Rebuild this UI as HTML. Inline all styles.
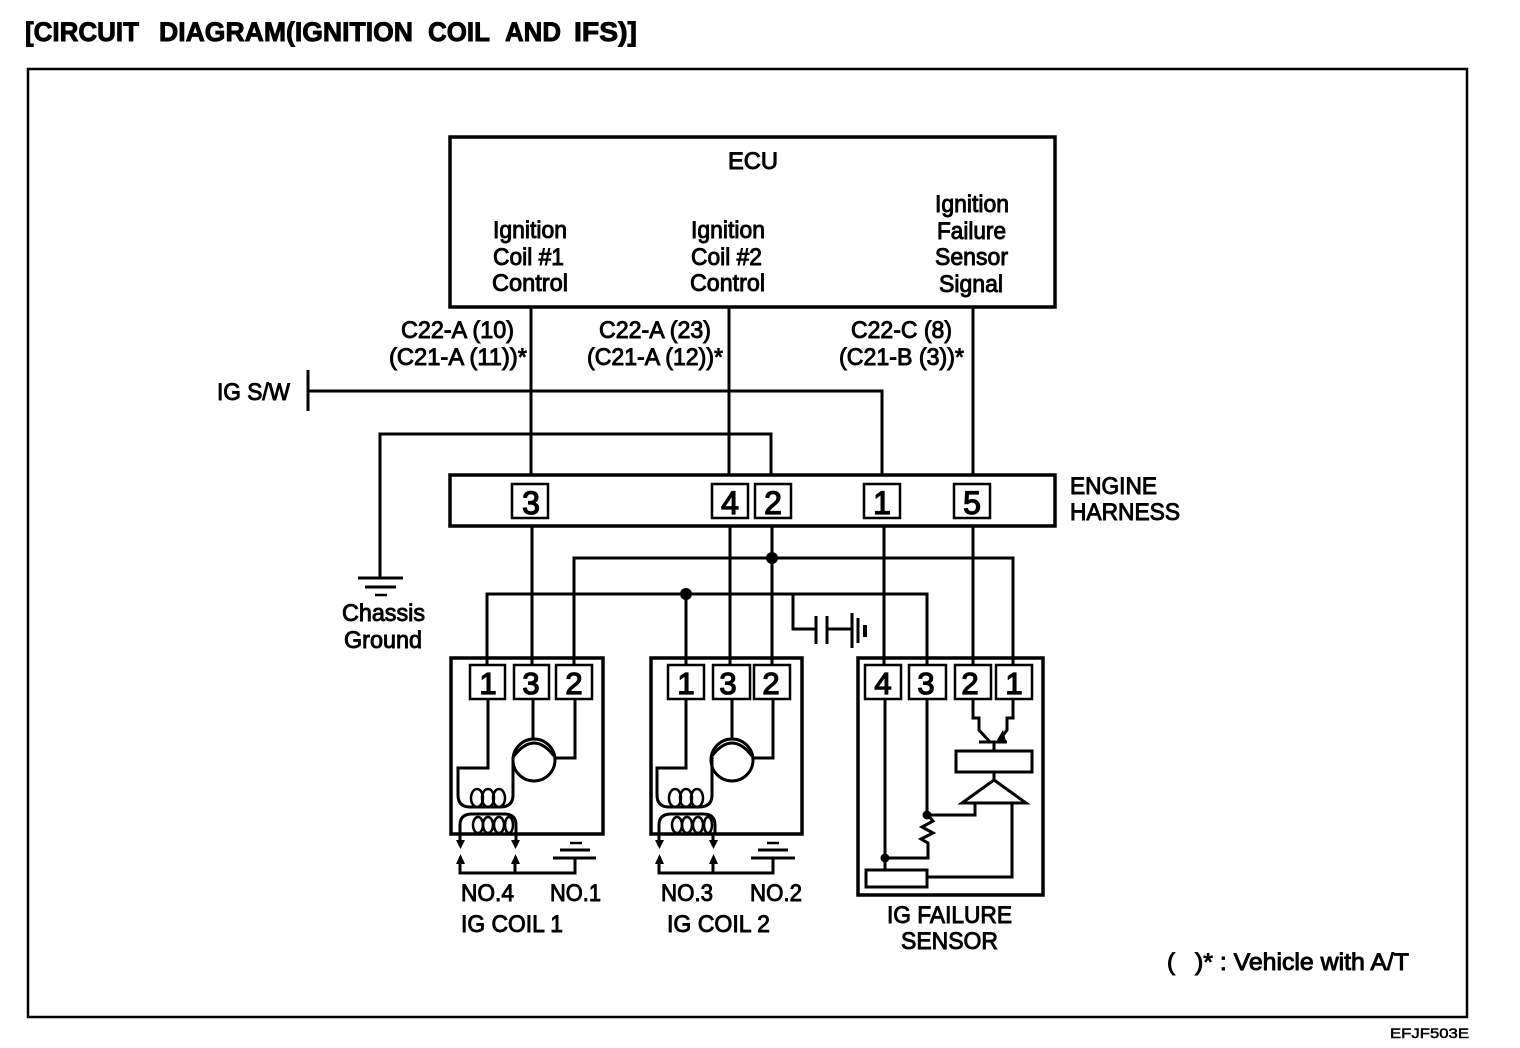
<!DOCTYPE html>
<html><head><meta charset="utf-8"><style>
html,body{margin:0;padding:0;background:#fff;width:1520px;height:1048px;overflow:hidden}
svg{display:block}
text{font-family:"Liberation Sans",sans-serif;font-size:24px;fill:#000;stroke:#000;stroke-width:.95px}
.h{font-size:27px;font-weight:bold;stroke-width:.9px}
.p{font-size:32px;text-anchor:middle;stroke-width:1.3px}
.q{font-size:31px;text-anchor:middle;stroke-width:1.3px}
.w{fill:none;stroke:#000;stroke-width:3}
.e{fill:none;stroke:#000;stroke-width:2.5}
.t{fill:none;stroke:#000;stroke-width:2.5}
.b{fill:none;stroke:#000;stroke-width:3.5}
</style></head><body>
<svg width="1520" height="1048" viewBox="0 0 1520 1048" xmlns="http://www.w3.org/2000/svg">
<rect width="1520" height="1048" fill="#fff"/>
<text class="h" x="25" y="41" textLength="114" lengthAdjust="spacingAndGlyphs">[CIRCUIT</text>
<text class="h" x="159" y="41" textLength="254" lengthAdjust="spacingAndGlyphs">DIAGRAM(IGNITION</text>
<text class="h" x="428" y="41" textLength="62" lengthAdjust="spacingAndGlyphs">COIL</text>
<text class="h" x="505" y="41" textLength="56" lengthAdjust="spacingAndGlyphs">AND</text>
<text class="h" x="574" y="41" textLength="63" lengthAdjust="spacingAndGlyphs">IFS)]</text>
<rect x="28" y="69" width="1439" height="948" class="t"/>

<!-- upper wires -->
<path class="w" d="M531 307V475M729 307V475M973 307V475M882 475V391H308M308 370V411M771 475V434H380V578"/>
<path class="w" d="M358 578H403M365 587H396"/><path d="M375 595H387" class="t"/>

<rect x="450" y="137" width="605" height="170" class="b"/>
<rect x="450" y="475" width="605" height="51" class="b"/>

<!-- harness pins -->
<g fill="none" stroke="#000" stroke-width="2.5">
<rect x="512" y="484" width="36" height="34"/><rect x="712" y="484" width="36" height="34"/><rect x="755" y="484" width="36" height="34"/><rect x="864" y="484" width="36" height="34"/><rect x="954" y="484" width="36" height="34"/>
</g>
<text class="p" x="531" y="514">3</text><text class="p" x="730" y="514">4</text><text class="p" x="773" y="514">2</text><text class="p" x="882" y="514">1</text><text class="p" x="972" y="514">5</text>

<!-- mid wires -->
<path class="w" d="M532 526V665M730 526V665M772 526V665M884 526V665M973 526V665M574 665V558H1013V665M487 665V594H927V665M686 594V665M793 594V629H815"/>
<circle cx="772" cy="558" r="6"/><circle cx="686" cy="594" r="6"/>
<!-- battery -->
<path class="w" d="M816 616V644M827 616V644M827 629H852M852 613V648"/>
<path d="M858 618V643" class="w"/><path d="M865 625V637" stroke="#000" stroke-width="4"/>

<!-- coil 1 -->
<g>
<rect x="451" y="658" width="152" height="176" class="b"/>
<rect x="470" y="665" width="35" height="34" class="t"/><rect x="514" y="665" width="35" height="34" class="t"/><rect x="556" y="665" width="36" height="34" class="t"/>
<path class="w" d="M488 699V768H458V795Q458 807 470 807H500Q513 807 513 795V757"/>
<path class="w" d="M533 699V739M575 699V758H555"/>
<circle cx="534" cy="760" r="21" class="w"/>
<path class="w" d="M514 756Q534 730 554 756"/>
<ellipse cx="477" cy="798" rx="6" ry="9" class="e"/><ellipse cx="488" cy="798" rx="6" ry="9" class="e"/><ellipse cx="499" cy="798" rx="6" ry="9" class="e"/>
<path class="w" d="M460 833V825Q460 814 472 814H504Q516 814 516 825V833"/>
<ellipse cx="478" cy="825" rx="5" ry="8" class="e"/><ellipse cx="488" cy="825" rx="5" ry="8" class="e"/><ellipse cx="499" cy="825" rx="5" ry="8" class="e"/><ellipse cx="509" cy="825" rx="4" ry="8" class="e"/>
<path class="w" d="M460 834V846M516 834V846"/>
<path d="M456 840H465L460.500 849ZM511 840H520L515.500 849Z"/>
<path d="M456 864H465L460.500 854ZM511 864H520L515.500 854Z"/>
<path class="w" d="M460 860V873H575V858M515 860V873"/>
<path class="w" d="M553 858H596M560 850H590"/><path class="t" d="M570 843H582"/>
</g>
<!-- coil 2 -->
<g>
<rect x="651" y="658" width="151" height="176" class="b"/>
<rect x="668" y="665" width="36" height="34" class="t"/><rect x="713" y="665" width="37" height="34" class="t"/><rect x="754" y="665" width="36" height="34" class="t"/>
<path class="w" d="M686 699V768H657V795Q657 807 669 807H699Q712 807 712 795V757"/>
<path class="w" d="M732 699V739M773 699V758H753"/>
<circle cx="732" cy="760" r="21" class="w"/>
<path class="w" d="M712 756Q732 730 752 756"/>
<ellipse cx="675" cy="798" rx="6" ry="9" class="e"/><ellipse cx="686" cy="798" rx="6" ry="9" class="e"/><ellipse cx="697" cy="798" rx="6" ry="9" class="e"/>
<path class="w" d="M659 833V825Q659 814 671 814H703Q715 814 715 825V833"/>
<ellipse cx="677" cy="825" rx="5" ry="8" class="e"/><ellipse cx="687" cy="825" rx="5" ry="8" class="e"/><ellipse cx="698" cy="825" rx="5" ry="8" class="e"/><ellipse cx="708" cy="825" rx="4" ry="8" class="e"/>
<path class="w" d="M659 834V846M713 834V846"/>
<path d="M655 840H664L659.500 849ZM709 840H718L713.500 849Z"/>
<path d="M655 864H664L659.500 854ZM709 864H718L713.500 854Z"/>
<path class="w" d="M659 860V873H773V858M713 860V873"/>
<path class="w" d="M751 858H795M758 850H788"/><path class="t" d="M767 843H779"/>
</g>
<!-- IFS -->
<rect x="858" y="658" width="185" height="237" class="b"/>
<rect x="865" y="665" width="36" height="34" class="t"/><rect x="909" y="665" width="37" height="34" class="t"/><rect x="955" y="665" width="36" height="34" class="t"/><rect x="996" y="665" width="36" height="34" class="t"/>
<path class="w" d="M885 699V870M927 699V815M885 858H928V843L921 839L933 833L922 827L933 821L928 815M927 815H975V803"/>
<circle cx="885" cy="858" r="4.500"/><circle cx="927" cy="815" r="4.500"/>
<path class="w" d="M973 699V718H979V730L990 742M1013 699V718H1007V730L998 742M979 742H1007M994 742V751M994 772V780"/>
<path d="M1003 730L1006 741L997 740Z"/>
<rect x="956" y="751" width="76" height="21" class="w"/>
<path class="w" d="M994 780L962 803H1026ZM1012 803V877H927"/>
<rect x="866" y="870" width="61" height="17" class="w"/>

<!-- digits -->
<text class="q" x="488" y="694">1</text><text class="q" x="531" y="694">3</text><text class="q" x="574" y="694">2</text>
<text class="q" x="686" y="694">1</text><text class="q" x="728" y="694">3</text><text class="q" x="771" y="694">2</text>
<text class="q" x="883" y="694">4</text><text class="q" x="926" y="694">3</text><text class="q" x="970" y="694">2</text><text class="q" x="1014" y="694">1</text>

<!-- labels -->
<text x="728" y="169" textLength="50" lengthAdjust="spacingAndGlyphs">ECU</text>
<text x="493" y="238" textLength="74" lengthAdjust="spacingAndGlyphs">Ignition</text>
<text x="493" y="265" textLength="71" lengthAdjust="spacingAndGlyphs">Coil #1</text>
<text x="492" y="291" textLength="76" lengthAdjust="spacingAndGlyphs">Control</text>
<text x="691" y="238" textLength="74" lengthAdjust="spacingAndGlyphs">Ignition</text>
<text x="691" y="265" textLength="71" lengthAdjust="spacingAndGlyphs">Coil #2</text>
<text x="690" y="291" textLength="75" lengthAdjust="spacingAndGlyphs">Control</text>
<text x="935" y="212" textLength="74" lengthAdjust="spacingAndGlyphs">Ignition</text>
<text x="937" y="239" textLength="69" lengthAdjust="spacingAndGlyphs">Failure</text>
<text x="935" y="265" textLength="73" lengthAdjust="spacingAndGlyphs">Sensor</text>
<text x="939" y="292" textLength="64" lengthAdjust="spacingAndGlyphs">Signal</text>
<text x="401" y="338" textLength="113" lengthAdjust="spacingAndGlyphs">C22-A (10)</text>
<text x="389" y="365" textLength="138" lengthAdjust="spacingAndGlyphs">(C21-A (11))*</text>
<text x="599" y="338" textLength="112" lengthAdjust="spacingAndGlyphs">C22-A (23)</text>
<text x="587" y="365" textLength="136" lengthAdjust="spacingAndGlyphs">(C21-A (12))*</text>
<text x="851" y="338" textLength="101" lengthAdjust="spacingAndGlyphs">C22-C (8)</text>
<text x="839" y="365" textLength="125" lengthAdjust="spacingAndGlyphs">(C21-B (3))*</text>
<text x="217" y="400" textLength="73" lengthAdjust="spacingAndGlyphs">IG S/W</text>
<text x="1070" y="494" textLength="87" lengthAdjust="spacingAndGlyphs">ENGINE</text>
<text x="1070" y="520" textLength="110" lengthAdjust="spacingAndGlyphs">HARNESS</text>
<text x="342" y="621" textLength="83" lengthAdjust="spacingAndGlyphs">Chassis</text>
<text x="344" y="648" textLength="78" lengthAdjust="spacingAndGlyphs">Ground</text>
<text x="461" y="901" textLength="53" lengthAdjust="spacingAndGlyphs">NO.4</text>
<text x="550" y="901" textLength="51" lengthAdjust="spacingAndGlyphs">NO.1</text>
<text x="461" y="932" textLength="102" lengthAdjust="spacingAndGlyphs">IG COIL 1</text>
<text x="661" y="901" textLength="52" lengthAdjust="spacingAndGlyphs">NO.3</text>
<text x="750" y="901" textLength="52" lengthAdjust="spacingAndGlyphs">NO.2</text>
<text x="667" y="932" textLength="103" lengthAdjust="spacingAndGlyphs">IG COIL 2</text>
<text x="887" y="923" textLength="125" lengthAdjust="spacingAndGlyphs">IG FAILURE</text>
<text x="901" y="949" textLength="97" lengthAdjust="spacingAndGlyphs">SENSOR</text>
<text x="1167" y="970">(</text>
<text x="1195" y="970" textLength="214" lengthAdjust="spacingAndGlyphs">)* : Vehicle with A/T</text>
<text x="1390" y="1038" textLength="79" lengthAdjust="spacingAndGlyphs" style="font-size:14px;stroke-width:.5px">EFJF503E</text>
</svg>
</body></html>
